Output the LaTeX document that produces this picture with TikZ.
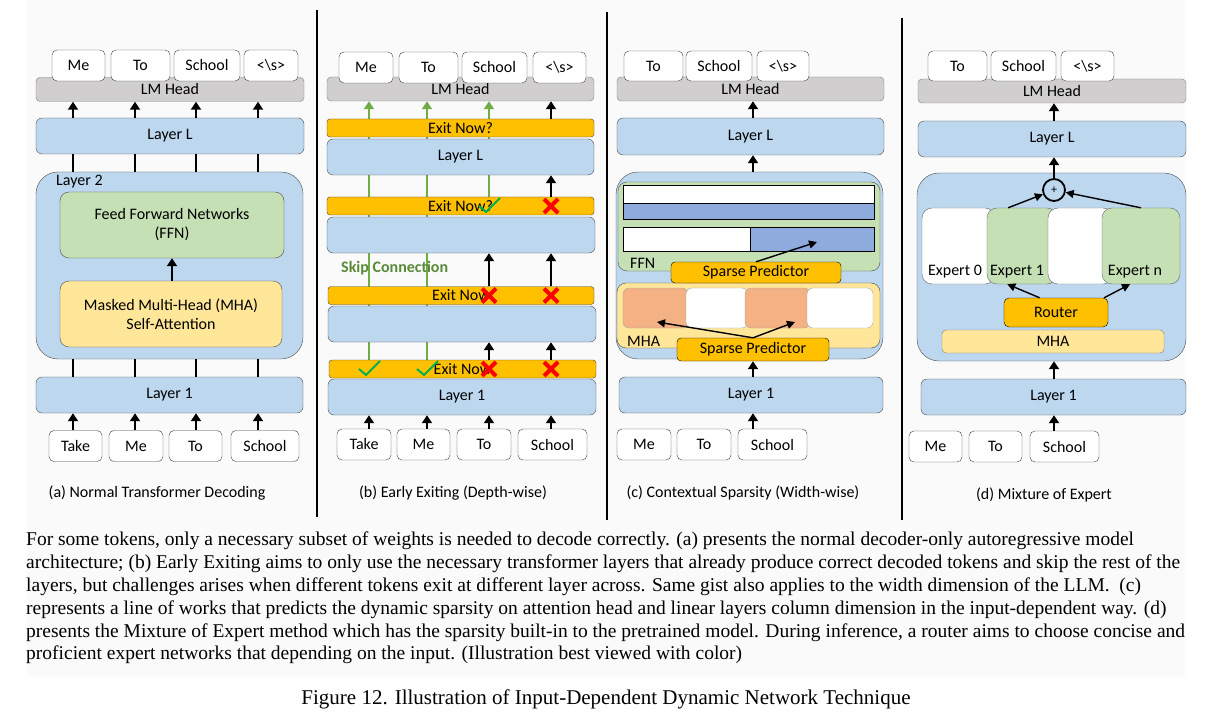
\documentclass[tikz,border=0pt]{standalone}
\usepackage{fontspec}
\setmainfont{Carlito}
\newfontfamily\capserif{Liberation Serif}
\usepackage{tikz}
\usetikzlibrary{arrows.meta, positioning, backgrounds}
\definecolor{layerblue}{HTML}{BDD7EE}
\definecolor{lmgray}{HTML}{D0CECE}
\definecolor{ffngreen}{HTML}{C5E0B4}
\definecolor{mhayellow}{HTML}{FFE699}
\definecolor{exitorange}{HTML}{FFC000}
\definecolor{barblue}{HTML}{8FAADC}
\definecolor{headorange}{HTML}{F4B183}
\definecolor{skipgreen}{HTML}{70AD47}
\definecolor{checkgreen}{HTML}{00B050}
\definecolor{crossred}{HTML}{FF0000}
\definecolor{pagegray}{HTML}{FAFAFA}
\newcommand{\drawCheck}[1]{\draw[checkmark] (#1)+(-10,0) -- +(-3,6) -- +(11,-8);}
\newcommand{\drawCross}[1]{\draw[crossmark] (#1)+(-7,-7) -- +(7,7) (#1)+(-7,7) -- +(7,-7);}
\tikzset{>={Triangle[width=10pt,length=8pt]},
    tok/.style={rectangle, draw=black!75, fill=white, rounded corners=5pt, inner sep=0pt, minimum height=31pt},
    lmhead/.style={rectangle, draw=black!50, fill=lmgray, rounded corners=4pt, inner sep=0pt, minimum height=24pt},
    layerbox/.style={rectangle, draw=black!70, fill=layerblue, rounded corners=6pt, inner sep=0pt, minimum height=36pt},
    blockbox/.style={rectangle, draw=black!70, fill=layerblue, rounded corners=22pt, inner sep=0pt},
    ffnbox/.style={rectangle, draw=black!70, fill=ffngreen, rounded corners=9pt, inner sep=0pt},
    mhabox/.style={rectangle, draw=black!70, fill=mhayellow, rounded corners=9pt, inner sep=0pt},
    exitbar/.style={rectangle, draw=black!75, fill=exitorange, rounded corners=3pt, inner sep=0pt, minimum height=18pt},
    headbox/.style={rectangle, draw=black!35, rounded corners=6pt, inner sep=0pt, minimum height=40pt},
    expertbox/.style={rectangle, draw=black!60, rounded corners=10pt, inner sep=0pt, minimum height=76pt},
    flow/.style={->, line width=2.2pt},
    linkline/.style={line width=2.2pt},
    pickarrow/.style={-{Triangle[width=8pt,length=8pt]}, line width=1.4pt},
    skipline/.style={-{Triangle[width=10pt,length=8pt]}, line width=2pt, skipgreen},
    checkmark/.style={line width=2pt, checkgreen},
    crossmark/.style={line width=4pt, crossred},
    sepline/.style={line width=1.8pt},
    textnode/.style={inner sep=0pt}}

\begin{document}
\begin{tikzpicture}[x=1pt, y=-1pt, font=\fontsize{16}{19}\selectfont]
\useasboundingbox (0,0) rectangle (1210,722);
\begin{scope}[on background layer]
\fill[pagegray] (27,0) rectangle (1185,676);
\end{scope}
\draw[sepline] (317,10) -- (317,517);
\draw[sepline] (607,12) -- (607,520);
\draw[sepline] (902,18) -- (902,520);

% (a) normal decoding
\coordinate (ac1) at (73,0);
\coordinate (ac2) at (135,0);
\coordinate (ac3) at (196,0);
\coordinate (ac4) at (258,0);
\node[lmhead, minimum width=268pt] (aLM) at (170,89.5) {LM Head};
\node[tok, minimum width=53pt] (aoMe) at (78.5,65.5) {Me};
\node[tok, minimum width=59pt] (aoTo) at (140.5,65.5) {To};
\node[tok, minimum width=66pt] (aoSchool) at (207,65.5) {School};
\node[tok, minimum width=54pt] (aoEnd) at (271,65.5) {<\textbackslash s>};
\node[layerbox, minimum width=268pt] (aL) at (170,136) {Layer L};
\node[blockbox, minimum width=267pt, minimum height=187pt] (a2) at (169.5,265.5) {};
\node[textnode, anchor=west] (a2lab) at (56,182) {Layer 2};
\node[ffnbox, minimum width=224pt, minimum height=66pt, align=center] (aFFN) at (172,225) {Feed Forward Networks\\(FFN)};
\node[mhabox, minimum width=222pt, minimum height=66pt, align=center] (aMHA) at (171,314) {Masked Multi-Head (MHA)\\Self-Attention};
\node[layerbox, minimum width=267pt] (a1) at (169.5,395) {Layer 1};
\node[tok, minimum width=53pt] (aiTake) at (75.5,446) {Take};
\node[tok, minimum width=54pt] (aiMe) at (136,446) {Me};
\node[tok, minimum width=53pt] (aiTo) at (195.5,446) {To};
\node[tok, minimum width=68pt] (aiSchool) at (265,446) {School};
\node[textnode] (acap) at (157,493) {(a) Normal Transformer Decoding};
\path[flow]
	(ac1 |- aL.north) edge (ac1 |- aLM.south)
	(ac2 |- aL.north) edge (ac2 |- aLM.south)
	(ac3 |- aL.north) edge (ac3 |- aLM.south)
	(ac4 |- aL.north) edge (ac4 |- aLM.south)
	(aFFN.south |- aMHA.north) edge (aFFN.south)
	(ac1 |- aiTake.north) edge (ac1 |- a1.south)
	(ac2 |- aiMe.north) edge (ac2 |- a1.south)
	(ac3 |- aiTo.north) edge (ac3 |- a1.south)
	(ac4 |- aiSchool.north) edge (ac4 |- a1.south);
\path[linkline]
	(ac1 |- a2.north) edge (ac1 |- aL.south)
	(ac2 |- a2.north) edge (ac2 |- aL.south)
	(ac3 |- a2.north) edge (ac3 |- aL.south)
	(ac4 |- a2.north) edge (ac4 |- aL.south)
	(ac1 |- a1.north) edge (ac1 |- a2.south)
	(ac2 |- a1.north) edge (ac2 |- a2.south)
	(ac3 |- a1.north) edge (ac3 |- a2.south)
	(ac4 |- a1.north) edge (ac4 |- a2.south);

% (b) early exiting
\coordinate (bc1) at (369,0);
\coordinate (bc2) at (427,0);
\coordinate (bc3) at (489,0);
\coordinate (bc4) at (551,0);
\node[lmhead, minimum width=267pt] (bLM) at (460.5,89) {LM Head};
\node[tok, minimum width=54pt] (boMe) at (366,67.5) {Me};
\node[tok, minimum width=59pt] (boTo) at (428.5,67.5) {To};
\node[tok, minimum width=65pt] (boSchool) at (494.5,67.5) {School};
\node[tok, minimum width=53pt] (boEnd) at (559.5,67.5) {<\textbackslash s>};
\node[exitbar, minimum width=267pt] (bE4) at (460.5,128) {Exit Now?};
\node[layerbox, minimum width=267pt] (bL) at (460.5,157) {Layer L};
\node[exitbar, minimum width=267pt] (bE3) at (460.5,206) {Exit Now?};
\node[layerbox, minimum width=268pt] (bB2) at (461,235) {};
\node[exitbar, minimum width=266pt] (bE2) at (461,295.5) {Exit Now};
\node[layerbox, minimum width=268pt] (bB1) at (462,324) {};
\node[exitbar, minimum width=267pt] (bE1) at (462.5,369) {Exit Now};
\node[layerbox, minimum width=268pt] (b1) at (462,397) {Layer 1};
\node[tok, minimum width=54pt] (biTake) at (364,444.5) {Take};
\node[tok, minimum width=53pt] (biMe) at (423.5,444.5) {Me};
\node[tok, minimum width=54pt] (biTo) at (484,444.5) {To};
\node[tok, minimum width=69pt] (biSchool) at (552.5,444.5) {School};
\node[textnode, anchor=west, text=skipgreen!80!black, font=\fontsize{16}{19}\selectfont\bfseries] (bskip) at (341,268) {Skip Connection};
\node[textnode] (bcap) at (453,493) {(b) Early Exiting (Depth-wise)};
\begin{scope}[on background layer]
\path[skipline]
	(bc1 |- bE1.north) edge (bc1 |- bLM.south)
	(bc2 |- bE1.north) edge (bc2 |- bLM.south)
	(bc3 |- bE3.north) edge (bc3 |- bLM.south);
\end{scope}
\path[flow]
	(bc4 |- bE4.north) edge (bc4 |- bLM.south)
	(bc4 |- bE3.north) edge (bc4 |- bL.south)
	(bc3 |- bE2.north) edge (bc3 |- bB2.south)
	(bc4 |- bE2.north) edge (bc4 |- bB2.south)
	(bc3 |- bE1.north) edge (bc3 |- bB1.south)
	(bc4 |- bE1.north) edge (bc4 |- bB1.south)
	(bc1 |- biTake.north) edge (bc1 |- b1.south)
	(bc2 |- biMe.north) edge (bc2 |- b1.south)
	(bc3 |- biTo.north) edge (bc3 |- b1.south)
	(bc4 |- biSchool.north) edge (bc4 |- b1.south);
\drawCheck{bc3 |- bE3}
\drawCross{bc4 |- bE3}
\drawCross{bc3 |- bE2}
\drawCross{bc4 |- bE2}
\drawCheck{bc1 |- bE1}
\drawCheck{bc2 |- bE1}
\drawCross{bc3 |- bE1}
\drawCross{bc4 |- bE1}

% (c) contextual sparsity
\coordinate (cc) at (753,0);
\node[lmhead, minimum width=267pt] (cLM) at (750.5,89) {LM Head};
\node[tok, minimum width=59pt, minimum height=30pt] (coTo) at (653.5,66) {To};
\node[tok, minimum width=66pt, minimum height=30pt] (coSchool) at (719,66) {School};
\node[tok, minimum width=52pt, minimum height=30pt] (coEnd) at (783,66) {<\textbackslash s>};
\node[layerbox, minimum width=267pt, minimum height=37pt] (cL) at (750.5,136.5) {Layer L};
\node[blockbox, minimum width=267pt, minimum height=187pt] (c2) at (749.5,265.5) {};
\node[ffnbox, minimum width=262pt, minimum height=89pt] (cFFN) at (749,226.5) {};
\node[rectangle, draw=black, fill=white, inner sep=0pt, minimum width=251pt, minimum height=18pt] (cRowW) at (748.5,194) {};
\node[rectangle, draw=black, fill=barblue, inner sep=0pt, minimum width=251pt, minimum height=16pt] (cRowB) at (748.5,211) {};
\node[rectangle, draw=black, fill=white, inner sep=0pt, minimum width=127pt, minimum height=24pt] (cColW) at (686.5,239) {};
\node[rectangle, draw=black, fill=barblue, inner sep=0pt, minimum width=124pt, minimum height=24pt] (cColB) at (812,239) {};
\node[textnode, anchor=west] (cFFNlab) at (630,263) {FFN};
\node[mhabox, minimum width=263pt, minimum height=65pt] (cMHA) at (748.5,315.5) {};
\node[headbox, fill=headorange, minimum width=65pt] (cH1) at (655.5,308) {};
\node[headbox, fill=white, minimum width=62pt] (cH2) at (717,308) {};
\node[headbox, fill=headorange, minimum width=65pt] (cH3) at (777.5,308) {};
\node[headbox, fill=white, minimum width=66pt] (cH4) at (840,308) {};
\node[textnode, anchor=west] (cMHAlab) at (627,341) {MHA};
\node[exitbar, draw=black, rounded corners=4pt, minimum width=170pt, minimum height=21pt] (cSP1) at (756,272.5) {Sparse Predictor};
\node[exitbar, draw=black, rounded corners=4pt, minimum width=152pt, minimum height=23pt] (cSP2) at (753,349.5) {Sparse Predictor};
\node[layerbox, minimum width=264pt] (c1) at (751,395) {Layer 1};
\node[tok, minimum width=54pt] (ciMe) at (644,444.5) {Me};
\node[tok, minimum width=54pt] (ciTo) at (704,444.5) {To};
\node[tok, minimum width=69pt] (ciSchool) at (772.5,444.5) {School};
\node[textnode] (ccap) at (743,493) {(c) Contextual Sparsity (Width-wise)};
\coordinate (cPickA) at (657,322);
\coordinate (cPickB) at (795,322);
\coordinate (cPickC) at (817,242);
\path[flow]
	(cc |- cL.north) edge (cc |- cLM.south)
	(cc |- c2.north) edge (cc |- cL.south)
	(cc |- c1.north) edge (cc |- cSP2.south)
	(cc |- ciSchool.north) edge (cc |- c1.south);
\path[pickarrow]
	(cSP1.north) edge (cPickC)
	(cSP2.north) edge (cPickA)
	(cSP2.north) edge (cPickB);

% (d) mixture of expert
\coordinate (dc) at (1054,0);
\node[lmhead, minimum width=268pt] (dLM) at (1052,91) {LM Head};
\node[tok, minimum width=59pt, minimum height=30pt] (doTo) at (957.5,66) {To};
\node[tok, minimum width=65pt, minimum height=30pt] (doSchool) at (1023.5,66) {School};
\node[tok, minimum width=53pt, minimum height=30pt] (doEnd) at (1087.5,66) {<\textbackslash s>};
\node[layerbox, minimum width=268pt] (dL) at (1052,139) {Layer L};
\node[blockbox, minimum width=269pt, minimum height=188pt] (d2) at (1051.5,267) {};
\node[expertbox, fill=white, minimum width=73pt] (dE0) at (958.5,246) {};
\node[expertbox, fill=ffngreen, minimum width=70pt] (dE1) at (1022,246) {};
\node[expertbox, fill=white, minimum width=65pt] (dE2) at (1080.5,246) {};
\node[expertbox, fill=ffngreen, minimum width=78pt] (dEn) at (1141,246) {};
\node[textnode] (dE0lab) at (955,272) {Expert 0};
\node[textnode] (dE1lab) at (1017,272) {Expert 1};
\node[textnode] (dEnlab) at (1135,272) {Expert n};
\node[circle, draw, line width=1.8pt, fill=layerblue, minimum size=22pt, inner sep=0pt, font=\fontsize{12}{12}\selectfont] (dSum) at (1054,190) {+};
\node[exitbar, draw=black, rounded corners=5pt, minimum width=104pt, minimum height=29pt] (dRouter) at (1056,312.5) {Router};
\node[mhabox, draw=black!50, rounded corners=4pt, minimum width=222pt, minimum height=23pt] (dMHA) at (1053,341.5) {MHA};
\node[layerbox, minimum width=265pt] (d1) at (1053.5,397) {Layer 1};
\node[tok, minimum width=53pt] (diMe) at (935.5,446.5) {Me};
\node[tok, minimum width=53pt] (diTo) at (995.5,446.5) {To};
\node[tok, minimum width=69pt] (diSchool) at (1064.5,446.5) {School};
\node[textnode] (dcap) at (1044,495) {(d) Mixture of Expert};
\path[flow]
	(dc |- dL.north) edge (dc |- dLM.south)
	(dSum.north) edge (dSum.north |- dL.south)
	(dc |- d1.north) edge (dc |- d2.south)
	(dc |- diSchool.north) edge (dc |- d1.south);
\path[pickarrow]
	(dE1.110) edge (dSum)
	(dEn.north) edge (dSum)
	(dRouter.138) edge (dE1.-111)
	(dRouter.17) edge (dEn.-106);

% caption
\node[textnode, anchor=north west, align=left, font=\capserif\fontsize{19.5}{22.8}\selectfont] (para) at (26,532) {For some tokens, only a necessary subset of weights is needed to decode correctly. (a) presents the normal decoder-only autoregressive model\\
architecture; (b) Early Exiting aims to only use the necessary transformer layers that already produce correct decoded tokens and skip the rest of the\\
layers, but challenges arises when different tokens exit at different layer across. Same gist also applies to the width dimension of the LLM.\ \ (c)\\
represents a line of works that predicts the dynamic sparsity on attention head and linear layers column dimension in the input-dependent way. (d)\\
presents the Mixture of Expert method which has the sparsity built-in to the pretrained model. During inference, a router aims to choose concise and\\
proficient expert networks that depending on the input. (Illustration best viewed with color)};
\node[textnode, font=\capserif\fontsize{21}{24}\selectfont] (figcap) at (606,699) {Figure 12. Illustration of Input-Dependent Dynamic Network Technique};
\end{tikzpicture}
\end{document}
